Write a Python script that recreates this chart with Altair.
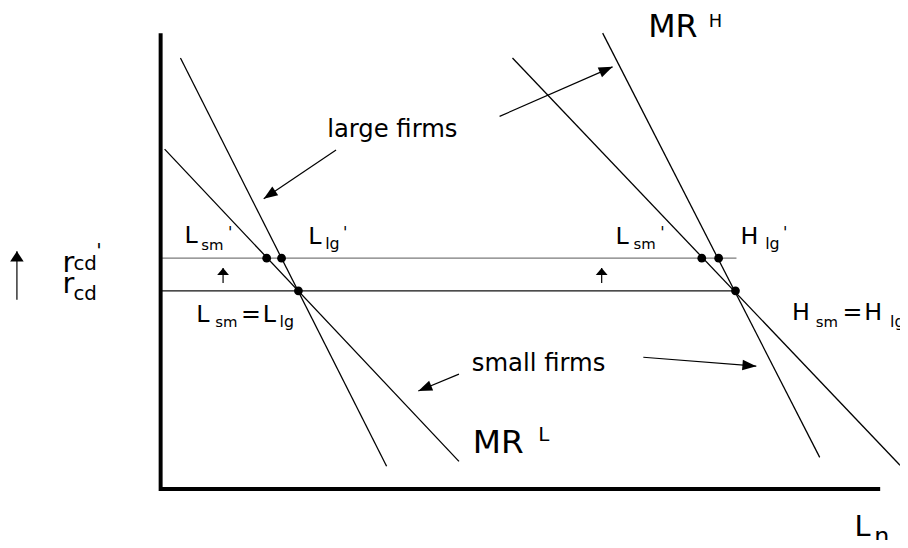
import math
import altair as alt
import pandas as pd

# ---- data (units measured from the origin of the L_n / r_cd frame) ----
# marginal-revenue curves: [start, end]
mrl_large_x = [20, 228]
mrl_large_y = [435, 23]
mrl_small_x = [4, 301]
mrl_small_y = [343, 28]
mrh_large_x = [446, 665]
mrh_large_y = [460, 32]
mrh_small_x = [355, 746]
mrh_small_y = [435, 24]

# interest-rate levels
r_cd_old = 200
r_cd_new = 233
r_line_end = 581

# frame
frame_x_end = 726
frame_y_end = 460

# equilibrium dots
dot_x = [107, 122, 139, 546, 563, 580]
dot_y = [233, 233, 200, 233, 233, 200]

# arrows: shaft start -> tip
arrow_x0 = [177, 342, 301, 487]
arrow_y0 = [342, 376, 116, 133]
arrow_x1 = [104, 456, 260, 601]
arrow_y1 = [293, 426, 99, 124]
up_arrow_x = [63, 445]
up_arrow_y0 = [208, 208]
up_arrow_y1 = [223, 223]
big_arrow_x = [-145]
big_arrow_y0 = [191]
big_arrow_y1 = [240]

# text labels
label_text = ["L", "sm", "'", "L", "lg", "'", "L", "sm", "'", "H", "lg", "'",
              "L", "sm", "=", "L", "lg", "H", "sm", "=", "H", "lg",
              "large firms", "small firms", "MR", "L", "MR", "H", "L", "n",
              "r", "cd", "'", "r", "cd"]
label_x = [24, 41, 68, 149, 166, 184, 459, 477, 504, 585, 610, 628,
           36, 55, 81, 103, 120, 637, 661, 688, 710, 736,
           168, 314, 315, 381, 492, 553, 700, 720,
           -99, -88, -65, -99, -88]
label_y = [248, 241, 253, 247, 242, 253, 247, 242, 253, 247, 242, 253,
           169, 164, 169, 169, 164, 171, 164, 171, 171, 164,
           355, 119, 36, 48, 456, 466, -47, -55,
           219, 221, 234, 198, 191]
label_size = [24, 15, 16, 24, 16, 16, 24, 15, 16, 24, 16, 16,
              24, 15, 24, 24, 16, 24, 15, 24, 24, 16,
              24.5, 24.5, 33, 20, 32, 18, 29, 24,
              29, 20, 20, 29, 20]

FONT = "DejaVu Sans"
X = alt.Scale(domain=[-154, 746], nice=False, zero=False)
Y = alt.Scale(domain=[-49, 483], nice=False, zero=False)


def seg_layer(df, width, color="#000000"):
    return alt.Chart(df).mark_rule(strokeWidth=width, color=color).encode(
        x=alt.X("x:Q", scale=X, axis=None),
        y=alt.Y("y:Q", scale=Y, axis=None),
        x2="x2:Q",
        y2="y2:Q",
    )


frame = pd.DataFrame({"x": [0, -1], "y": [-2, 0], "x2": [0, frame_x_end], "y2": [frame_y_end, 0]})
curves = pd.DataFrame({
    "x": [mrl_large_x[0], mrl_small_x[0], mrh_large_x[0], mrh_small_x[0]],
    "y": [mrl_large_y[0], mrl_small_y[0], mrh_large_y[0], mrh_small_y[0]],
    "x2": [mrl_large_x[1], mrl_small_x[1], mrh_large_x[1], mrh_small_x[1]],
    "y2": [mrl_large_y[1], mrl_small_y[1], mrh_large_y[1], mrh_small_y[1]],
})
rate_new = pd.DataFrame({"x": [0], "y": [r_cd_new], "x2": [r_line_end], "y2": [r_cd_new]})
rate_old = pd.DataFrame({"x": [0], "y": [r_cd_old], "x2": [r_line_end - 1], "y2": [r_cd_old]})

shafts = pd.DataFrame({
    "x": arrow_x0 + up_arrow_x + big_arrow_x,
    "y": arrow_y0 + up_arrow_y0 + big_arrow_y0,
    "x2": arrow_x1 + up_arrow_x + big_arrow_x,
    "y2": arrow_y1 + up_arrow_y1 + big_arrow_y1,
})


def heads(xs0, ys0, xs1, ys1):
    ang = [math.degrees(math.atan2(x1 - x0, y1 - y0)) % 360
           for x0, y0, x1, y1 in zip(xs0, ys0, xs1, ys1)]
    return pd.DataFrame({"x": xs1, "y": ys1, "ang": ang})


def head_layer(df, path, size):
    return alt.Chart(df).mark_point(
        shape=path, filled=True, color="#000000", opacity=1, size=size, strokeWidth=0
    ).encode(
        x=alt.X("x:Q", scale=X, axis=None),
        y=alt.Y("y:Q", scale=Y, axis=None),
        angle=alt.Angle("ang:Q", scale=None),
    )


diag_heads = heads(arrow_x0, arrow_y0, arrow_x1, arrow_y1)
up_heads = heads(up_arrow_x, up_arrow_y0, up_arrow_x, up_arrow_y1)
big_heads = heads(big_arrow_x, big_arrow_y0, big_arrow_x, big_arrow_y1)

dots = pd.DataFrame({"x": dot_x, "y": dot_y})
labels = pd.DataFrame({"t": label_text, "x": label_x, "y": label_y, "s": label_size})

chart = alt.layer(
    seg_layer(rate_new, 1.4, "#7a7a7a"),
    seg_layer(rate_old, 1.3, "#111111"),
    seg_layer(curves, 1.3),
    seg_layer(shafts, 1.2),
    seg_layer(frame, 4),
    head_layer(diag_heads, "M0,0L0.38,1L-0.38,1Z", 784),
    head_layer(up_heads, "M0,0L0.85,1L-0.85,1Z", 196),
    head_layer(big_heads, "M0,0L0.65,1L-0.65,1Z", 440),
    alt.Chart(dots).mark_point(filled=True, color="#000000", opacity=1, size=78, shape="circle").encode(
        x=alt.X("x:Q", scale=X, axis=None),
        y=alt.Y("y:Q", scale=Y, axis=None),
    ),
    alt.Chart(labels).mark_text(align="left", baseline="alphabetic", font=FONT, color="#000000").encode(
        x=alt.X("x:Q", scale=X, axis=None),
        y=alt.Y("y:Q", scale=Y, axis=None),
        text="t:N",
        size=alt.Size("s:Q", scale=None),
    ),
).properties(
    width=900, height=532, padding=0, autosize=alt.AutoSizeParams(type="none")
).configure_view(stroke=None)

chart.save("out.html", embed_options={"renderer": "svg", "actions": False})
